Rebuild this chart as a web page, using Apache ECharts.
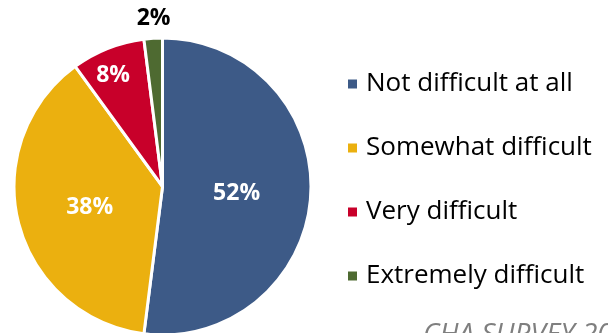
<!DOCTYPE html>
<html><head><meta charset="utf-8">
<script src="https://cdn.jsdelivr.net/npm/echarts@6/dist/echarts.min.js"></script>
<style>html,body{margin:0;padding:0;background:#fff}#c{width:608px;height:333px}</style>
</head><body><div id="c"></div>
<script>
const categories = ["Not difficult at all", "Somewhat difficult", "Very difficult", "Extremely difficult"];
const values = [52, 38, 8, 2];
const colors = ["#3D5A87", "#EBB00F", "#C8002A", "#4E6A31"];
const footer = "CHA SURVEY 2014";

const labelOffsets = [[-3, 2], [2, 2], [-21, -39], [-4, -91]];
const labelColors = ["#fff", "#fff", "#fff", "#000"];

const chart = echarts.init(document.getElementById('c'));
chart.setOption({
  animation: false,
  color: colors,
  legend: {
    orient: 'vertical',
    left: 346, top: 69, padding: 0,
    icon: 'rect', itemWidth: 11, itemHeight: 11,
    itemGap: 34,
    textStyle: { fontFamily: 'Open Sans', fontSize: 26, color: '#000', lineHeight: 30, padding: [0, 0, 0, 3] },
    data: categories
  },
  graphic: [{
    type: 'text', x: 423, y: 335,
    style: { text: footer, font: 'italic 28px "Open Sans"', fill: '#7f7f7f', verticalAlign: 'middle' }
  }],
  series: [{
    type: 'pie',
    center: [162.5, 186.5],
    radius: [0, 148.5],
    startAngle: 90,
    clockwise: true,
    itemStyle: { borderColor: '#fff', borderWidth: 3 },
    label: { position: 'inside', fontFamily: 'Open Sans', fontWeight: 'bold', fontSize: 23, formatter: '{c}%' },
    labelLine: { show: false },
    data: categories.map((n, i) => ({
      name: n, value: values[i],
      label: { color: labelColors[i], offset: labelOffsets[i] }
    }))
  }]
});
</script></body></html>
